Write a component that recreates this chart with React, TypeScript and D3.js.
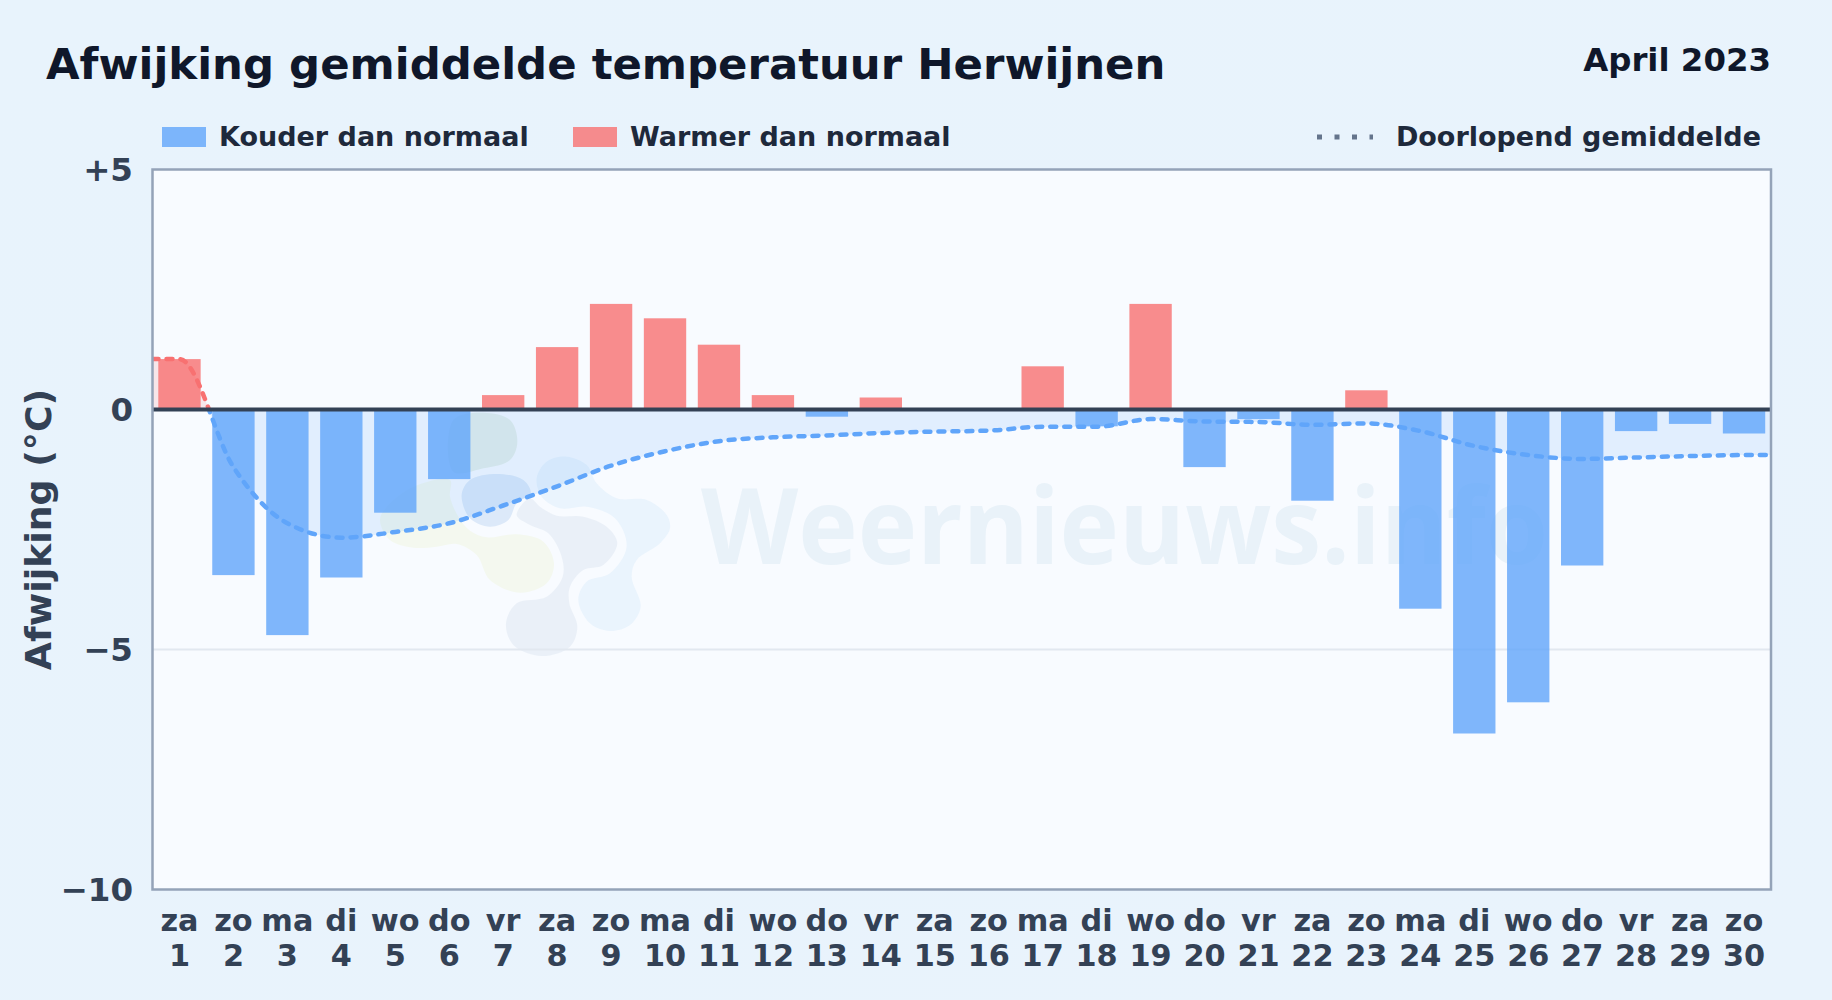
import React, { useMemo } from "react";
import * as d3 from "d3";

const weekdays = ["za", "zo", "ma", "di", "wo", "do", "vr", "za", "zo", "ma", "di", "wo", "do", "vr", "za", "zo", "ma", "di", "wo", "do", "vr", "za", "zo", "ma", "di", "wo", "do", "vr", "za", "zo"];
const dayNumbers = d3.range(1, 31);
const deviations = [1.05, -3.45, -4.7, -3.5, -2.15, -1.45, 0.3, 1.3, 2.2, 1.9, 1.35, 0.3, -0.15, 0.25, 0, 0, 0.9, -0.35, 2.2, -1.2, -0.2, -1.9, 0.4, -4.15, -6.75, -6.1, -3.25, -0.45, -0.3, -0.5];
const runningMean = [1.05, -1.2, -2.37, -2.67, -2.55, -2.37, -2.0, -1.6, -1.17, -0.87, -0.66, -0.58, -0.54, -0.49, -0.46, -0.44, -0.36, -0.36, -0.2, -0.25, -0.26, -0.32, -0.29, -0.45, -0.76, -0.95, -1.03, -1.0, -0.97, -0.95];
const yTicks = [5, 0, -5, -10];

// logo in the watermark, traced outlines
const logoBlobs: { fill: string; pts: [number, number][] }[] = [
  { fill: "#e0ebe2", pts: [[250, 60], [340, 38], [420, 60], [442, 125], [420, 180], [340, 205], [250, 215]] },
  { fill: "#f3f8ea", pts: [[30, 360], [60, 420], [130, 443], [200, 440], [260, 432], [320, 465], [360, 540], [450, 578], [530, 550], [552, 490], [520, 425], [440, 403], [350, 412], [300, 392], [265, 350], [240, 290], [240, 240], [130, 260], [50, 320]] },
  { fill: "#d2e3f7", pts: [[275, 285], [300, 240], [380, 222], [460, 240], [482, 280], [440, 310], [415, 360], [360, 380], [300, 355]] },
  { fill: "#e6edf6", pts: [[510, 320], [560, 347], [640, 350], [710, 380], [742, 430], [700, 495], [640, 510], [600, 560], [598, 610], [622, 680], [600, 740], [515, 768], [430, 735], [408, 670], [440, 610], [530, 590], [578, 530], [575, 470], [535, 400], [480, 375], [440, 345], [480, 295]] },
  { fill: "#e5f2fd", pts: [[500, 235], [530, 185], [590, 170], [650, 195], [680, 250], [740, 295], [830, 300], [890, 345], [900, 385], [870, 430], [800, 480], [785, 530], [812, 620], [780, 675], [720, 693], [660, 670], [625, 600], [650, 545], [720, 520], [770, 440], [735, 355], [650, 320], [570, 325], [515, 290]] },
];

const WIDTH = 1832;
const HEIGHT = 1000;
const M = { left: 152.5, right: 1771, top: 169.5, bottom: 889.5 };
const FONT = "'DejaVu Sans', sans-serif";
const BLUE = "#60a5fa";
const RED = "#f87171";

const tickLabel = (v: number) => (v > 0 ? `+${v}` : v < 0 ? `\u2212${-v}` : "0");

export default function App() {
  const chart = useMemo(() => {
    const x = d3.scaleBand<number>().domain(dayNumbers).range([M.left, M.right]).paddingInner(0.215).paddingOuter(0.1075);
    const y = d3.scaleLinear().domain([5, -10]).range([M.top, M.bottom]);
    const cx = (d: number) => (x(d) as number) + x.bandwidth() / 2;

    const pts: [number, number][] = [
      [M.left, runningMean[0]],
      ...runningMean.map((v, i): [number, number] => [cx(dayNumbers[i]), v]),
      [M.right, runningMean[runningMean.length - 1]],
    ];
    const line = d3.line<[number, number]>().x((d) => d[0]).y((d) => y(d[1])).curve(d3.curveMonotoneX);
    const area = d3.area<[number, number]>().x((d) => d[0]).y0(y(0)).y1((d) => y(d[1])).curve(d3.curveMonotoneX);
    const blob = d3.line<[number, number]>().curve(d3.curveCatmullRomClosed.alpha(0.5));
    return { x, y, cx, blob, linePath: line(pts) || "", areaPath: area(pts) || "" };
  }, []);

  const { x, y, cx } = chart;
  const zero = y(0);

  return (
    <svg width={WIDTH} height={HEIGHT} style={{ position: "absolute", left: 0, top: 0 }} fontFamily={FONT} fontWeight={700}>
      <defs>
        <linearGradient id="bg" x1="0" y1="0" x2="1" y2="1">
          <stop offset="0%" stopColor="#e8f3fc" />
          <stop offset="100%" stopColor="#e9f3fc" />
        </linearGradient>
        <clipPath id="above">
          <rect x={M.left} y={M.top} width={M.right - M.left} height={zero - M.top} />
        </clipPath>
        <clipPath id="below">
          <rect x={M.left} y={zero} width={M.right - M.left} height={M.bottom - zero} />
        </clipPath>
      </defs>

      <rect width={WIDTH} height={HEIGHT} fill="url(#bg)" />
      <rect x={M.left} y={M.top} width={M.right - M.left} height={M.bottom - M.top} fill="#f8fbff" />

      {/* watermark */}
      <g transform="translate(370,400) scale(0.3333)" opacity={0.72}>
        {logoBlobs.map((b, i) => (
          <path key={i} d={chart.blob(b.pts) || ""} fill={b.fill} />
        ))}
      </g>
      <text x={701} y={564} fontFamily="'Open Sans', sans-serif" fontWeight={700} fontSize={105} fill="#e9f2f9" textLength={847} lengthAdjust="spacingAndGlyphs">
        Weernieuws.info
      </text>

      {/* grid */}
      <line x1={M.left} x2={M.right} y1={y(-5)} y2={y(-5)} stroke="#e2e8f0" strokeWidth={1.8} />

      {/* running mean area */}
      <path d={chart.areaPath} fill={BLUE} fillOpacity={0.15} clipPath="url(#below)" />
      <path d={chart.areaPath} fill={RED} fillOpacity={0.15} clipPath="url(#above)" />

      {/* bars */}
      {deviations.map((v, i) => {
        if (v === 0) return null;
        const d = dayNumbers[i];
        return (
          <rect
            key={d}
            x={x(d)}
            y={Math.min(y(v), zero)}
            width={x.bandwidth()}
            height={Math.abs(y(v) - zero)}
            fill={v < 0 ? BLUE : RED}
            fillOpacity={0.8}
          />
        );
      })}

      {/* running mean */}
      <path d={chart.linePath} fill="none" stroke={BLUE} strokeWidth={4.5} strokeDasharray="6 8" strokeLinecap="round" clipPath="url(#below)" />
      <path d={chart.linePath} fill="none" stroke={RED} strokeWidth={4.5} strokeDasharray="6 8" strokeLinecap="round" clipPath="url(#above)" />

      {/* zero line and frame */}
      <line x1={M.left} x2={M.right} y1={zero} y2={zero} stroke="#334155" strokeWidth={4} />
      <rect x={M.left} y={M.top} width={M.right - M.left} height={M.bottom - M.top} fill="none" stroke="#94a3b8" strokeWidth={2.5} />

      {/* y axis */}
      {yTicks.map((t) => (
        <text key={t} x={133} y={y(t)} dy="0.36em" textAnchor="end" fontSize={32.5} fill="#334155">
          {tickLabel(t)}
        </text>
      ))}
      <text transform={`translate(38.5,${(M.top + M.bottom) / 2}) rotate(-90)`} textAnchor="middle" dominantBaseline="central" fontSize={36.3} fill="#334155">
        Afwijking (°C)
      </text>

      {/* x axis */}
      {dayNumbers.map((d, i) => (
        <text key={d} textAnchor="middle" fontSize={30.3} fill="#334155">
          <tspan x={cx(d)} y={931}>{weekdays[i]}</tspan>
          <tspan x={cx(d)} y={966}>{d}</tspan>
        </text>
      ))}

      {/* title */}
      <text x={46} y={79} fontSize={43.4} fill="#0f172a">Afwijking gemiddelde temperatuur Herwijnen</text>
      <text x={1771} y={70.5} textAnchor="end" fontSize={32.4} fill="#0f172a">April 2023</text>

      {/* legend */}
      <rect x={162} y={127} width={44} height={20} fill={BLUE} fillOpacity={0.8} />
      <text x={219} y={146} fontSize={27} fill="#1e293b">Kouder dan normaal</text>
      <rect x={573} y={127} width={44} height={20} fill={RED} fillOpacity={0.8} />
      <text x={630} y={146} fontSize={27} fill="#1e293b">Warmer dan normaal</text>
      <line x1={1317} x2={1373} y1={137} y2={137} stroke="#64748b" strokeWidth={5} strokeDasharray="5 12.5" />
      <text x={1761} y={146} textAnchor="end" fontSize={27} fill="#1e293b">Doorlopend gemiddelde</text>
    </svg>
  );
}
